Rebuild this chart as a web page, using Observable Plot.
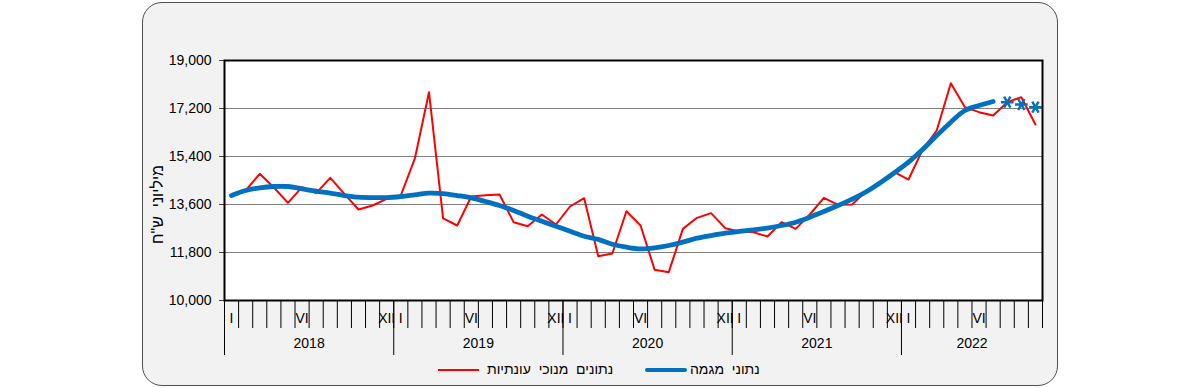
<!DOCTYPE html>
<html>
<head>
<meta charset="utf-8">
<script src="https://cdn.jsdelivr.net/npm/d3@7"></script>
<script src="https://cdn.jsdelivr.net/npm/@observablehq/plot@0.6"></script>
<style>
  html, body { margin: 0; padding: 0; background: #ffffff; }
  #wrap { position: relative; width: 1200px; height: 388px; font-family: "Liberation Sans", Arial, sans-serif; }
  #box { position: absolute; left: 142px; top: 2px; width: 914px; height: 382px; background: #f2f2f2; border: 1px solid #505050; border-radius: 20px; }
  #chart { position: absolute; left: 0; top: 0; }
  .leg { position: absolute; top: 361px; font-size: 14px; color: #000; white-space: pre; line-height: 17px; }
  .sw { position: absolute; }
</style>
</head>
<body>
<div id="wrap">
  <div id="box"></div>
  <div id="chart"></div>
  <div class="sw" style="left:438px; top:369px; width:41px; height:2px; background:#ff0000;"></div>
  <div class="leg" style="left:487px;" dir="rtl">נתונים  מנוכי  עונתיות</div>
  <div class="sw" style="left:645px; top:368px; width:42px; height:4px; background:#0070c0; border-radius:2px;"></div>
  <div class="leg" style="left:690px;" dir="rtl">נתוני  מגמה</div>
</div>
<script>
// ---- data ----
const years = [2018, 2019, 2020, 2021, 2022];
const monthLabels = ["I", "VI", "XII"];
const monthLabelNumbers = [1, 6, 12];
const nMonths = 58; // Jan 2018 .. Oct 2022
const yTicks = [10000, 11800, 13600, 15400, 17200, 19000];
const yTitle = "מיליוני  ש\"ח";

// seasonally adjusted (red)
const seasonal = [
  13937, 14125, 14750, 14237, 13662, 14250, 14025, 14600, 14000, 13412, 13562, 13812,
  13937, 15330, 17812, 13080, 12812, 13900, 13950, 13975, 12937, 12787, 13225, 12850,
  13525, 13837, 11662, 11762, 13345, 12812, 11150, 11062, 12687, 13100, 13275, 12712,
  12590, 12562, 12400, 12937, 12687, 13225, 13850, 13587, 13600, 14100, 14400, 14812,
  14537, 15660, 16375, 18150, 17250, 17062, 16937, 17437, 17625, 16600
];
// trend (blue), Jan 2018 .. Jul 2022
const trend = [
  13937, 14125, 14225, 14275, 14275, 14187, 14100, 14025, 13937, 13875, 13860, 13860,
  13900, 13962, 14025, 14010, 13937, 13850, 13712, 13562, 13375, 13162, 12975, 12787,
  12600, 12412, 12290, 12110, 12000, 11937, 11975, 12062, 12187, 12337, 12437, 12525,
  12590, 12650, 12712, 12812, 12937, 13125, 13337, 13562, 13800, 14080, 14420, 14790,
  15187, 15660, 16187, 16687, 17125, 17312, 17462
];
// provisional trend points (asterisks), Aug .. Oct 2022
const trendProvisional = [17437, 17350, 17250];
const trendProvisionalStart = 55;

// ---- derived tables ----
const redData = seasonal.map((v, i) => ({ m: i + 0.5, v }));
const blueData = trend.map((v, i) => ({ m: i + 0.5, v }));
const starData = trendProvisional.map((v, i) => ({ m: trendProvisionalStart + i + 0.5, v }));

const monthTickPos = [];
const monthTickText = new Map();
years.forEach((y, yi) => {
  monthLabelNumbers.forEach((mn, k) => {
    const idx = yi * 12 + mn;
    if (idx <= nMonths) {
      const p = idx - 0.5;
      monthTickPos.push(p);
      monthTickText.set(p, monthLabels[k]);
    }
  });
});
const yearStarts = years.map((y, i) => i * 12);
const yearCenters = years.map((y, i) => (i * 12 + Math.min((i + 1) * 12, nMonths)) / 2);
const yearText = new Map(yearCenters.map((c, i) => [c, String(years[i])]));

const chart = Plot.plot({
  width: 1200,
  height: 388,
  marginLeft: 224,
  marginRight: 158,
  marginTop: 60,
  marginBottom: 88,
  style: { background: "transparent", fontFamily: "Liberation Sans, Arial, sans-serif", fontSize: "14px", color: "#000", overflow: "visible" },
  x: { domain: [0, nMonths] },
  y: { domain: [10000, 19000] },
  marks: [
    Plot.frame({ fill: "white", stroke: null }),
    Plot.gridY(yTicks.slice(1, -1), { stroke: "#808080", strokeOpacity: 1, strokeWidth: 1 }),
    Plot.axisY(yTicks, { tickFormat: d3.format(","), tickSize: 5, tickPadding: 8, label: null, stroke: "#404040", fontSize: 14 }),
    Plot.text([yTitle], { frameAnchor: "left", dx: -67, dy: 24, rotate: -90, fontSize: 16, fill: "#000", textAnchor: "middle", lineAnchor: "middle" }),
    Plot.axisX(d3.range(nMonths + 1), { tickSize: 28, tickFormat: () => "", label: null, stroke: "#000" }),
    Plot.axisX(yearStarts, { tickSize: 55, tickFormat: () => "", label: null, stroke: "#000" }),
    Plot.axisX(monthTickPos, { tickSize: 0, tickPadding: 13, tickFormat: d => monthTickText.get(d), label: null, fontSize: 14 }),
    Plot.axisX(yearCenters, { tickSize: 0, tickPadding: 38, tickFormat: d => yearText.get(d), label: null, fontSize: 14 }),
    Plot.lineY(redData, { x: "m", y: "v", stroke: "#ff0000", strokeWidth: 2 }),
    Plot.lineY(blueData, { x: "m", y: "v", stroke: "#0070c0", strokeWidth: 4.8, curve: "catmull-rom" }),
    Plot.dot(starData, { x: "m", y: "v", symbol: "asterisk", r: 6, stroke: "#0070c0", strokeWidth: 2.4, rotate: 90 }),
    Plot.frame({ stroke: "#000", strokeWidth: 2 })
  ]
});
document.getElementById("chart").appendChild(chart);
</script>
</body>
</html>
